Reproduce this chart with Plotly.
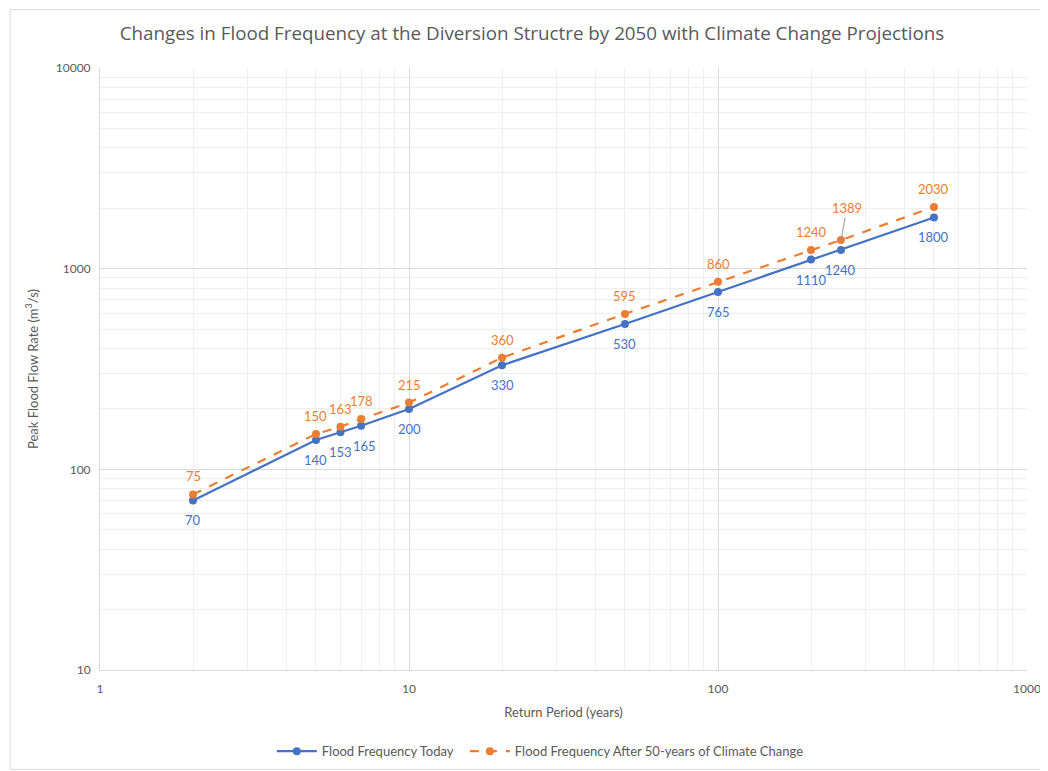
import math
import plotly.graph_objects as go

return_period = [2, 5, 6, 7, 10, 20, 50, 100, 200, 250, 500]
flow_today = [70, 140, 153, 165, 200, 330, 530, 765, 1110, 1240, 1800]
flow_future = [75, 150, 163, 178, 215, 360, 595, 860, 1240, 1389, 2030]

x_ticks = [1, 10, 100, 1000]
y_ticks = [10, 100, 1000, 10000]

BLUE = "#4472C4"
ORANGE = "#ED7D31"
FONT = "Lato"
GREY = "#595959"

fig = go.Figure()
fig.add_trace(go.Scatter(
    x=return_period, y=flow_today, mode="lines+markers",
    name="Flood Frequency Today\u00a0\u00a0",
    line=dict(color=BLUE, width=2.2),
    marker=dict(color=BLUE, size=8),
))
fig.add_trace(go.Scatter(
    x=return_period, y=flow_future, mode="lines+markers",
    name="Flood Frequency After 50-years of Climate Change",
    line=dict(color=ORANGE, width=2.2, dash="dash"),
    marker=dict(color=ORANGE, size=8),
))

anns = []
for i, (x, y) in enumerate(zip(return_period, flow_today)):
    dx, dy = 0, -20
    if i == 3:
        dx = 3
    anns.append(dict(x=math.log10(x), y=math.log10(y), xref="x", yref="y", text=str(y),
                     showarrow=False, xshift=dx, yshift=dy,
                     font=dict(color=BLUE, size=13, family=FONT)))
for i, (x, y) in enumerate(zip(return_period, flow_future)):
    if i == 9:
        anns.append(dict(x=math.log10(x), y=math.log10(y), xref="x", yref="y", text=str(y),
                         showarrow=True, arrowhead=0, arrowwidth=1, arrowcolor="#999999",
                         ax=6, ay=-32, font=dict(color=ORANGE, size=13, family=FONT)))
        continue
    anns.append(dict(x=math.log10(x), y=math.log10(y), xref="x", yref="y", text=str(y),
                     showarrow=False, yshift=18,
                     font=dict(color=ORANGE, size=13, family=FONT)))

grid_major = "#d9d9d9"
grid_minor = "#eeeeee"

fig.update_xaxes(
    type="log", range=[0, 3], tickvals=x_ticks, ticktext=[str(v) for v in x_ticks],
    showgrid=True, gridcolor=grid_major, gridwidth=1,
    minor=dict(showgrid=True, gridcolor=grid_minor, dtick="D1"),
    showline=True, linecolor="#d9d9d9", zeroline=False,
    tickfont=dict(color=GREY, size=12, family=FONT), ticks="", ticklabelstandoff=8,
    title=dict(text="Return Period (years)", font=dict(color=GREY, size=13, family=FONT), standoff=12),
)
fig.update_yaxes(
    type="log", range=[1, 4], tickvals=y_ticks, ticktext=[str(v) for v in y_ticks],
    showgrid=True, gridcolor=grid_major, gridwidth=1,
    minor=dict(showgrid=True, gridcolor=grid_minor, dtick="D1"),
    showline=True, linecolor="#d9d9d9", zeroline=False,
    tickfont=dict(color=GREY, size=12, family=FONT), ticks="", ticklabelstandoff=6,
    title=dict(text="Peak Flood Flow Rate (m<sup>3</sup>/s)", font=dict(color=GREY, size=13, family=FONT), standoff=14),
)

fig.update_layout(
    width=1048, height=771,
    paper_bgcolor="white", plot_bgcolor="white",
    margin=dict(l=92, r=29, t=60, b=109),
    title=dict(text="Changes in Flood Frequency at the Diversion Structre by 2050 with Climate Change Projections",
               x=0.5, xanchor="center", xref="container", y=0.967, yanchor="middle",
               font=dict(color=GREY, size=18.8, family="Open Sans")),
    showlegend=True,
    legend=dict(orientation="h", x=0.475, xanchor="center", y=-0.135, yanchor="middle",
                itemwidth=40,
                font=dict(color=GREY, size=13, family=FONT)),
    annotations=anns,
    shapes=[dict(type="rect", xref="paper", yref="paper", x0=-0.097, x1=1.03, y0=-0.165, y1=1.097,
                 line=dict(color="#d9d9d9", width=1), layer="below")],
)

fig.write_html("out.html")
